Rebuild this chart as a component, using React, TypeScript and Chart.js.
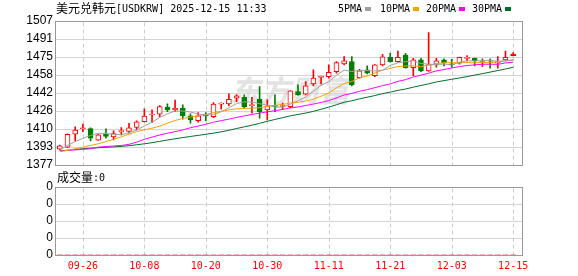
import React, { useEffect, useRef } from 'react';
import { Chart, registerables } from 'chart.js';

Chart.register(...registerables);

const dates = [
  '09-23', '09-24', '09-25', '09-26', '09-29', '09-30', '10-01', '10-02', '10-03', '10-06',
  '10-07', '10-08', '10-09', '10-10', '10-13', '10-14', '10-15', '10-16', '10-17', '10-20',
  '10-21', '10-22', '10-23', '10-24', '10-27', '10-28', '10-29', '10-30', '10-31', '11-03',
  '11-04', '11-05', '11-06', '11-07', '11-10', '11-11', '11-12', '11-13', '11-14', '11-17',
  '11-18', '11-19', '11-20', '11-21', '11-24', '11-25', '11-26', '11-27', '11-28', '12-01',
  '12-02', '12-03', '12-04', '12-05', '12-08', '12-09', '12-10', '12-11', '12-12', '12-15',
];
const shownDates = ['09-26', '10-08', '10-20', '10-30', '11-11', '11-21', '12-03', '12-15'];

const opens = [
  1391.2, 1393.0, 1404.7, 1409.6, 1409.8, 1399.3, 1404.7, 1402.3, 1406.8, 1407.1,
  1410.7, 1416.1, 1422.0, 1422.8, 1429.1, 1426.7, 1428.2, 1421.2, 1417.0, 1421.8,
  1420.6, 1431.8, 1432.1, 1437.2, 1438.1, 1430.5, 1436.3, 1426.7, 1430.3, 1429.7,
  1429.6, 1443.2, 1440.8, 1450.1, 1456.0, 1456.7, 1461.2, 1468.2, 1470.3, 1455.8,
  1462.8, 1457.6, 1467.3, 1474.2, 1470.3, 1476.3, 1464.8, 1471.8, 1461.9, 1467.9,
  1471.8, 1468.2, 1468.8, 1473.2, 1473.3, 1469.5, 1469.5, 1469.0, 1471.8, 1475.7,
];
const highs = [
  1394.8, 1405.0, 1411.3, 1413.7, 1410.4, 1404.6, 1409.5, 1407.7, 1410.7, 1414.6,
  1416.7, 1427.6, 1426.7, 1430.5, 1432.1, 1435.6, 1431.2, 1423.0, 1424.2, 1424.2,
  1433.2, 1433.0, 1441.1, 1440.5, 1440.2, 1438.1, 1447.7, 1435.7, 1440.2, 1432.8,
  1444.0, 1449.2, 1452.2, 1462.8, 1457.3, 1467.3, 1470.3, 1474.8, 1474.8, 1463.4,
  1466.4, 1467.5, 1476.9, 1477.8, 1479.9, 1477.8, 1473.3, 1473.3, 1496.6, 1473.3,
  1472.7, 1472.4, 1474.4, 1475.7, 1473.5, 1472.7, 1472.7, 1474.8, 1479.9, 1478.4,
];
const lows = [
  1390.5, 1392.5, 1398.7, 1407.0, 1398.7, 1399.0, 1401.1, 1399.6, 1404.1, 1405.6,
  1408.6, 1415.8, 1415.4, 1420.6, 1425.1, 1425.0, 1418.3, 1414.6, 1415.5, 1417.0,
  1419.7, 1427.3, 1430.5, 1434.1, 1428.5, 1423.7, 1419.2, 1417.6, 1425.1, 1426.8,
  1428.7, 1440.0, 1440.2, 1448.3, 1450.1, 1455.3, 1459.8, 1467.3, 1448.3, 1455.3,
  1459.2, 1456.7, 1466.4, 1469.7, 1469.7, 1464.3, 1457.6, 1461.2, 1461.5, 1465.2,
  1466.4, 1465.2, 1467.9, 1470.9, 1466.4, 1465.7, 1464.3, 1464.3, 1471.5, 1475.5,
];
const closes = [
  1394.2, 1404.5, 1408.3, 1410.0, 1401.1, 1404.1, 1402.6, 1405.3, 1408.0, 1410.4,
  1415.8, 1421.0, 1422.5, 1429.6, 1426.7, 1428.2, 1421.2, 1417.6, 1421.2, 1421.2,
  1431.8, 1432.7, 1436.3, 1439.3, 1429.4, 1431.0, 1425.1, 1430.3, 1429.8, 1430.0,
  1443.8, 1440.2, 1448.3, 1455.3, 1456.5, 1460.7, 1469.4, 1470.9, 1449.2, 1461.9,
  1459.8, 1467.3, 1474.5, 1470.3, 1474.2, 1464.8, 1471.8, 1461.9, 1467.5, 1470.9,
  1469.1, 1467.3, 1474.2, 1473.5, 1470.9, 1469.8, 1469.2, 1469.8, 1474.2, 1477.2,
];

const ma5 = [
  1390.5, 1394.5, 1398.0, 1401.0, 1403.5, 1405.6, 1405.2, 1404.6, 1404.2, 1406.1,
  1408.4, 1412.1, 1415.5, 1419.8, 1423.1, 1425.6, 1425.6, 1424.7, 1423.0, 1421.9,
  1422.6, 1424.9, 1428.6, 1432.3, 1433.9, 1433.7, 1432.2, 1431.0, 1429.1, 1429.2,
  1431.8, 1434.8, 1438.4, 1443.5, 1448.8, 1452.2, 1458.0, 1462.6, 1461.3, 1462.4,
  1462.2, 1461.8, 1462.5, 1466.8, 1469.2, 1470.2, 1471.1, 1468.6, 1468.0, 1467.4,
  1468.2, 1467.3, 1469.8, 1471.0, 1471.0, 1471.1, 1471.5, 1470.6, 1470.8, 1472.0,
];
const ma10 = [
  1389.0, 1390.0, 1391.5, 1393.0, 1394.5, 1396.0, 1398.0, 1400.0, 1402.3, 1404.8,
  1407.0, 1408.7, 1410.1, 1412.0, 1414.6, 1417.0, 1418.9, 1420.1, 1421.4, 1422.5,
  1424.1, 1425.3, 1426.7, 1427.6, 1427.9, 1428.2, 1428.6, 1429.8, 1430.7, 1431.6,
  1432.8, 1433.5, 1434.7, 1436.3, 1439.0, 1442.0, 1446.4, 1450.5, 1452.4, 1455.6,
  1457.2, 1459.9, 1462.6, 1464.1, 1465.8, 1466.3, 1466.5, 1465.6, 1467.4, 1468.3,
  1469.3, 1469.3, 1469.2, 1469.5, 1469.2, 1469.7, 1469.4, 1470.2, 1470.9, 1471.5,
];
const ma20 = [
  1389.5, 1390.0, 1390.5, 1391.0, 1391.5, 1393.0, 1393.5, 1394.0, 1394.5, 1395.5,
  1397.5, 1400.0, 1402.0, 1404.0, 1405.5, 1407.0, 1408.5, 1410.5, 1412.0, 1413.6,
  1415.5, 1416.9, 1418.3, 1419.8, 1421.2, 1422.5, 1423.7, 1424.9, 1426.0, 1427.0,
  1428.4, 1429.3, 1430.6, 1431.9, 1433.4, 1435.0, 1437.4, 1440.1, 1441.5, 1443.5,
  1444.9, 1446.7, 1448.6, 1450.1, 1452.4, 1454.0, 1456.4, 1458.0, 1459.8, 1461.9,
  1463.1, 1464.5, 1465.8, 1466.7, 1467.4, 1467.9, 1467.9, 1467.8, 1469.1, 1469.8,
];
const ma30 = [
  1389.6, 1390.2, 1390.8, 1391.5, 1392.0, 1392.4, 1392.8, 1393.2, 1393.6, 1394.3,
  1395.1, 1396.0, 1397.0, 1398.2, 1399.4, 1400.5, 1401.6, 1402.6, 1403.6, 1404.6,
  1405.6, 1406.8, 1408.2, 1409.8, 1411.3, 1412.8, 1414.5, 1416.3, 1418.0, 1419.6,
  1421.3, 1422.5, 1423.8, 1425.3, 1427.2, 1429.1, 1431.3, 1433.5, 1434.9, 1436.6,
  1438.1, 1439.6, 1441.3, 1442.7, 1444.3, 1445.5, 1447.2, 1448.7, 1450.2, 1451.9,
  1453.1, 1454.3, 1455.5, 1456.7, 1458.1, 1459.4, 1460.8, 1462.2, 1463.6, 1465.2,
];
const volumes = [
  0, 0, 0, 0, 0, 0, 0, 0, 0, 0, 0, 0, 0, 0, 0, 0, 0, 0, 0, 0,
  0, 0, 0, 0, 0, 0, 0, 0, 0, 0, 0, 0, 0, 0, 0, 0, 0, 0, 0, 0,
  0, 0, 0, 0, 0, 0, 0, 0, 0, 0, 0, 0, 0, 0, 0, 0, 0, 0, 0, 0,
];

const priceTicks = [1377, 1393.25, 1409.5, 1425.75, 1442, 1458.25, 1474.5, 1490.75, 1507];
const priceTickLabels = ['1377', '1393', '1410', '1426', '1442', '1458', '1475', '1491', '1507'];
const volumeTicks = [0, 1, 2, 3, 4];
const volumeTickLabels = ['0', '0', '0', '0', '0'];

const maLabels = ['5PMA', '10PMA', '20PMA', '30PMA'];
const maColors = ['#a0a0a0', '#f5a300', '#ff00ff', '#006f2e'];

const UP = '#ff0000';
const DOWN = '#008000';
const GRID = '#d4d4d4';
const VGRID = '#cccccc';
const FRAME = '#999999';
const FRAME_RIGHT = 522;
const MONO = '"DejaVu Sans Mono", "Liberation Mono", monospace';
const CJK = '"Noto Sans CJK SC", "Noto Sans", sans-serif';

const isUp = (i: number) => closes[i] >= opens[i];
const lastIdx = dates.length - 1;

function framePlugin(id: string) {
  return {
    id,
    beforeDatasetsDraw(chart: any) {
      const { ctx, chartArea, scales } = chart;
      const xs = scales.x;
      const ys = scales.y;
      const left = Math.floor(chartArea.left) - 0.5;
      const right = FRAME_RIGHT + 0.5;
      const top = Math.round(chartArea.top) + 0.5;
      const bottom = Math.round(chartArea.bottom) + 0.5;
      ctx.save();
      ctx.lineWidth = 1;
      ctx.strokeStyle = GRID;
      ys.ticks.forEach((t: any) => {
        const py = Math.round(ys.getPixelForValue(t.value)) + 0.5;
        ctx.beginPath();
        ctx.moveTo(left, py);
        ctx.lineTo(right, py);
        ctx.stroke();
      });
      ctx.strokeStyle = VGRID;
      ctx.setLineDash([4, 3]);
      dates.forEach((d, i) => {
        if (!shownDates.includes(d)) return;
        const px = Math.round(xs.getPixelForValue(i)) + 0.5;
        ctx.beginPath();
        ctx.moveTo(px, top + 1);
        ctx.lineTo(px, bottom);
        ctx.stroke();
      });
      ctx.setLineDash([]);
      ctx.strokeStyle = FRAME;
      ctx.strokeRect(left, top, right - left, bottom - top);
      ctx.restore();
    },
  };
}

function priceConfig(): any {
  const lineSets = [ma5, ma10, ma20, ma30].map((d, k) => ({
    type: 'line',
    label: maLabels[k],
    data: d,
    borderColor: maColors[k],
    borderWidth: 1,
    pointRadius: 0,
    tension: 0,
    fill: false,
    order: 0,
  }));
  return {
    type: 'bar',
    data: {
      labels: dates,
      datasets: [
        ...lineSets,
        {
          type: 'bar',
          label: 'body',
          data: opens.map((o, i) => [o, closes[i]]),
          backgroundColor: (c: any) =>
            c.dataIndex === lastIdx ? UP : isUp(c.dataIndex) ? '#ffffff' : DOWN,
          borderColor: (c: any) => (isUp(c.dataIndex) ? UP : DOWN),
          borderWidth: 1,
          borderSkipped: false,
          barThickness: 5,
          minBarLength: 1,
          grouped: false,
          order: 1,
        },
        {
          type: 'bar',
          label: 'wick',
          data: lows.map((l, i) => [l, highs[i]]),
          backgroundColor: (c: any) => (isUp(c.dataIndex) ? UP : DOWN),
          borderWidth: 0,
          barThickness: 1,
          grouped: false,
          order: 2,
        },
      ],
    },
    options: {
      responsive: false,
      animation: false,
      devicePixelRatio: 1,
      events: [],
      layout: { padding: { left: 0, right: 61, top: 21, bottom: 10 } },
      plugins: { legend: { display: false }, tooltip: { enabled: false } },
      scales: {
        x: {
          type: 'category',
          offset: true,
          grid: { display: false, offset: false },
          border: { display: false },
          ticks: { display: false },
          afterFit: (s: any) => {
            s.height = 0;
          },
        },
        y: {
          type: 'linear',
          min: 1377,
          max: 1507,
          afterBuildTicks: (s: any) => {
            s.ticks = priceTicks.map((v) => ({ value: v }));
          },
          ticks: {
            autoSkip: false,
            callback: (_v: any, i: number) => priceTickLabels[i],
            color: '#000000',
            font: { family: '"Liberation Sans", Arial, sans-serif', size: 12 },
            padding: 3,
          },
          grid: { display: false, drawTicks: false },
          border: { display: false },
          afterFit: (s: any) => {
            s.width = 56;
          },
        },
      },
    },
    plugins: [framePlugin('frameP')],
  };
}

function volumeConfig(): any {
  return {
    type: 'bar',
    data: {
      labels: dates,
      datasets: [
        {
          type: 'bar',
          label: 'volume',
          data: volumes,
          backgroundColor: UP,
          barThickness: 5,
        },
      ],
    },
    options: {
      responsive: false,
      animation: false,
      devicePixelRatio: 1,
      events: [],
      layout: { padding: { left: 0, right: 61, top: 12, bottom: 0 } },
      plugins: { legend: { display: false }, tooltip: { enabled: false } },
      scales: {
        x: {
          type: 'category',
          offset: true,
          grid: { display: false, drawTicks: false, offset: false },
          border: { display: false },
          ticks: {
            autoSkip: false,
            maxRotation: 0,
            minRotation: 0,
            color: '#ff0000',
            font: { family: MONO, size: 10 },
            padding: 5,
            callback: (_v: any, i: number) => (shownDates.includes(dates[i]) ? dates[i] : ''),
          },
          afterFit: (s: any) => {
            s.height = 21;
          },
        },
        y: {
          type: 'linear',
          min: 0,
          max: 4,
          afterBuildTicks: (s: any) => {
            s.ticks = volumeTicks.map((v) => ({ value: v }));
          },
          ticks: {
            autoSkip: false,
            callback: (_v: any, i: number) => volumeTickLabels[i],
            color: '#000000',
            font: { family: '"Liberation Sans", Arial, sans-serif', size: 12 },
            padding: 3,
          },
          grid: { display: false, drawTicks: false },
          border: { display: false },
          afterFit: (s: any) => {
            s.width = 56;
          },
        },
      },
    },
    plugins: [framePlugin('frameV')],
  };
}

const legendTextX = [338, 380, 426, 472];
const legendRectX = [365, 413, 459, 505];

export default function App() {
  const priceRef = useRef<HTMLCanvasElement>(null);
  const volRef = useRef<HTMLCanvasElement>(null);

  useEffect(() => {
    document.body.style.margin = '0';
    const c1 = new Chart(priceRef.current as HTMLCanvasElement, priceConfig());
    const c2 = new Chart(volRef.current as HTMLCanvasElement, volumeConfig());
    return () => {
      c1.destroy();
      c2.destroy();
    };
  }, []);

  const abs: React.CSSProperties = { position: 'absolute', whiteSpace: 'pre', color: '#000' };
  const cjk: React.CSSProperties = { ...abs, fontFamily: CJK, fontSize: 12, lineHeight: '12px' };
  const mono: React.CSSProperties = { ...abs, fontFamily: MONO, fontSize: 10, lineHeight: '12px' };

  return (
    <div style={{ position: 'relative', width: 578, height: 276, background: '#ffffff', overflow: 'hidden' }}>
      <div
        style={{
          ...abs,
          left: 230,
          top: 72,
          fontFamily: CJK,
          fontSize: 30,
          lineHeight: '34px',
          fontWeight: 700,
          fontStyle: 'italic',
          color: '#e3e3e3',
        }}
      >
        东方财富
      </div>
      <canvas ref={priceRef} width={578} height={175} style={{ position: 'absolute', left: 0, top: 0 }} />
      <canvas ref={volRef} width={578} height={101} style={{ position: 'absolute', left: 0, top: 175 }} />
      <div style={{ ...cjk, left: 56, top: 2 }}>美元兑韩元</div>
      <div style={{ ...mono, left: 116, top: 3 }}>[USDKRW] 2025-12-15 11:33</div>
      {maLabels.map((l, k) => (
        <React.Fragment key={l}>
          <div style={{ ...mono, left: legendTextX[k], top: 3 }}>{l}</div>
          <div
            style={{
              position: 'absolute',
              left: legendRectX[k],
              top: 7,
              width: 6,
              height: 4,
              background: maColors[k],
            }}
          />
        </React.Fragment>
      ))}
      <div style={{ ...cjk, left: 57, top: 171 }}>成交量</div>
      <div style={{ ...mono, left: 93, top: 172 }}>:0</div>
    </div>
  );
}
